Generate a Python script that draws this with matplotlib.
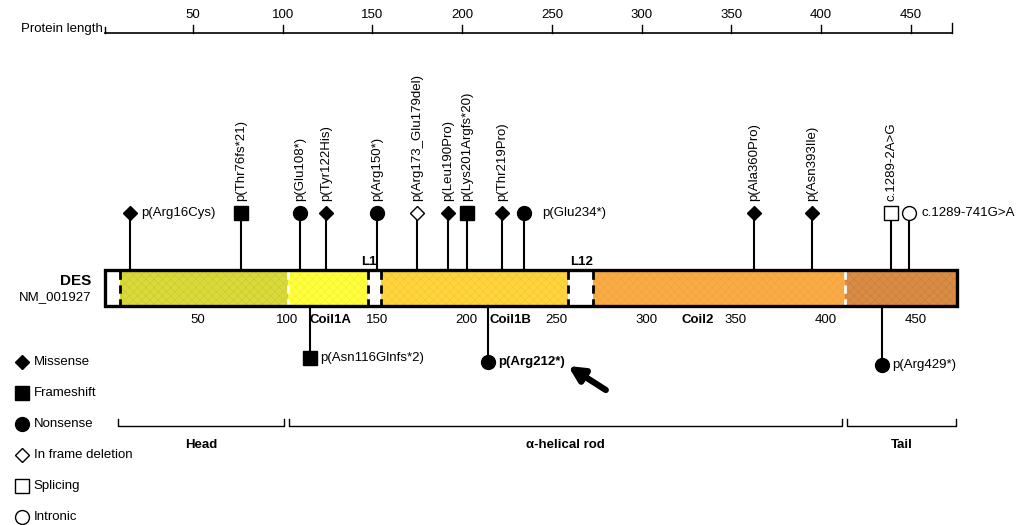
import matplotlib
matplotlib.use("Agg")
import matplotlib.pyplot as plt
from matplotlib.patches import Rectangle

plt.rcParams['font.family'] = ['Liberation Sans', 'DejaVu Sans']
plt.rcParams['hatch.linewidth'] = 0.4

# ---- data (positions in amino acids) ----
axis_ticks = [50, 100, 150, 200, 250, 300, 350, 400, 450]
protein_end = 473

domain_names = ["N-term", "Head", "Coil1A", "L1", "Coil1B", "L12", "Coil2", "Tail"]
domain_starts = [1, 9.4, 103, 147.5, 154.8, 259, 272.9, 413]
domain_ends = [9.4, 103, 147.5, 154.8, 259, 272.9, 413, 475.6]
domain_colors = ["white", "#d9d93a", "#ffff3c", "white", "#ffd43c", "white", "#f9ac45", "#d98c45"]
domain_texture = ["white", "#c8c832", "#f0f032", "white", "#f2c434", "white", "#f0a03c", "#c97e3c"]

# mutations above the bar
top_labels = ["p(Arg16Cys)", "p(Thr76fs*21)", "p(Glu108*)", "p(Tyr122His)", "p(Arg150*)",
              "p(Arg173_Glu179del)", "p(Leu190Pro)", "p(Lys201Argfs*20)", "p(Thr219Pro)",
              "p(Glu234*)", "p(Ala360Pro)", "p(Asn393Ile)", "c.1289-2A>G", "c.1289-741G>A"]
top_pos = [15, 76.7, 109.6, 124, 152.5, 174.8, 192, 202.7, 222, 234.4, 362.6, 395, 439, 449]
top_types = ["Missense", "Frameshift", "Nonsense", "Missense", "Nonsense",
             "In frame deletion", "Missense", "Frameshift", "Missense",
             "Nonsense", "Missense", "Missense", "Splicing", "Intronic"]
# labels written beside the marker instead of above it, with their gap
top_sideways = {"p(Arg16Cys)": 6, "p(Glu234*)": 10, "c.1289-741G>A": 7}

# mutations below the bar
bot_labels = ["p(Asn116Glnfs*2)", "p(Arg212*)", "p(Arg429*)"]
bot_pos = [115.2, 214.4, 433.9]
bot_types = ["Frameshift", "Nonsense", "Nonsense"]
bot_marker_y = [358, 362, 365]

legend_types = ["Missense", "Frameshift", "Nonsense", "In frame deletion", "Splicing", "Intronic"]

regions = ["Head", "\u03b1-helical rod", "Tail"]
region_starts = [8.2, 103.5, 414.4]
region_ends = [100.7, 411.6, 475]

coil_labels = ["Coil1A", "Coil1B", "Coil2"]
coil_pos = [126.9, 226.6, 331.4]

styles = {
    "Missense": dict(marker="D", ms=7, mfc="black", mec="black"),
    "Frameshift": dict(marker="s", ms=9.5, mfc="black", mec="black"),
    "Nonsense": dict(marker="o", ms=10, mfc="black", mec="black"),
    "In frame deletion": dict(marker="D", ms=7, mfc="white", mec="black"),
    "Splicing": dict(marker="s", ms=9.5, mfc="white", mec="black"),
    "Intronic": dict(marker="o", ms=10, mfc="white", mec="black"),
}

fig = plt.figure(figsize=(10.29, 5.25), dpi=100)
ax = fig.add_axes([0, 0, 1, 1])
ax.set_xlim(1 - 105 / 1.795, 1 + 924 / 1.795)
ax.set_ylim(525, 0)
ax.axis("off")

fs = 9.5

# ---- protein length axis ----
ax.plot([1, protein_end], [33, 33], color="black", lw=1.2)
ax.plot([1, 1], [33, 27], color="black", lw=1)
ax.plot([protein_end, protein_end], [33, 23], color="black", lw=1)
for t in axis_ticks:
    ax.plot([t, t], [33, 25], color="black", lw=1)
    ax.text(t, 21, str(t), ha="center", va="bottom", fontsize=fs)
ax.text(0, 29, "Protein length", ha="right", va="center", fontsize=fs)

# ---- domain bar ----
bar_top, bar_bot = 270, 306
for s, e, c, h in zip(domain_starts, domain_ends, domain_colors, domain_texture):
    if c == "white":
        ax.add_patch(Rectangle((s, bar_top), e - s, bar_bot - bar_top, facecolor=c, edgecolor="none"))
    else:
        ax.add_patch(Rectangle((s, bar_top), e - s, bar_bot - bar_top, facecolor=c, edgecolor=h,
                               lw=0, hatch="xxxx"))
ax.add_patch(Rectangle((1, bar_top), 475.6 - 1, bar_bot - bar_top, facecolor="none",
                       edgecolor="black", lw=2.4, zorder=4))
for b in domain_starts[1:]:
    white_side = b in (9.4, 147.5, 154.8, 259, 272.9)
    col = "black" if white_side else "white"
    ax.plot([b, b], [bar_top + 1, bar_bot - 1], color=col, lw=2, ls=(0, (3, 2)), zorder=3)

ax.text(-6.8, 281, "DES", ha="right", va="center", fontsize=11, fontweight="bold")
ax.text(-6.8, 297, "NM_001927", ha="right", va="center", fontsize=fs)

for t in axis_ticks:
    ax.text(t + 2.5, 320, str(t), ha="center", va="center", fontsize=fs)
for lab, x in zip(coil_labels, coil_pos):
    ax.text(x, 320, lab, ha="center", va="center", fontsize=fs, fontweight="bold")
ax.text(148, 262, "L1", ha="center", va="center", fontsize=fs, fontweight="bold")
ax.text(266.7, 262, "L12", ha="center", va="center", fontsize=fs, fontweight="bold")

# ---- mutations above ----
for lab, x, kind in zip(top_labels, top_pos, top_types):
    ax.plot([x, x], [213, bar_top], color="black", lw=1.5, zorder=2)
    ax.plot([x], [213], linestyle="none", zorder=5, **styles[kind])
    if lab in top_sideways:
        ax.text(x + top_sideways[lab], 213, lab, ha="left", va="center", fontsize=fs)
    else:
        ax.text(x, 201, lab, ha="center", va="bottom", rotation=90, fontsize=fs)

# ---- mutations below ----
for lab, x, kind, my in zip(bot_labels, bot_pos, bot_types, bot_marker_y):
    ax.plot([x, x], [bar_bot, my], color="black", lw=1.5, zorder=2)
    ax.plot([x], [my], linestyle="none", zorder=5, **styles[kind])
    bold = "bold" if lab == "p(Arg212*)" else "normal"
    ax.text(x + 5.5, my, lab, ha="left", va="center", fontsize=fs, fontweight=bold)

ax.annotate("", xy=(259, 366), xytext=(280, 390),
            arrowprops=dict(arrowstyle="-|>,head_length=0.9,head_width=0.45", color="black", lw=4.5,
                            shrinkA=0, shrinkB=0))

# ---- legend ----
for i, kind in enumerate(legend_types):
    y = 362 + i * 31
    ax.plot([-45.2], [y], linestyle="none", **styles[kind])
    ax.text(-38.6, y, kind, ha="left", va="center", fontsize=fs)

# ---- regions ----
for lab, s, e in zip(regions, region_starts, region_ends):
    ax.plot([s, s, e, e], [419, 426, 426, 419], color="black", lw=1)
    ax.text((s + e) / 2, 445, lab, ha="center", va="center", fontsize=fs, fontweight="bold")

fig.savefig("out.png", dpi=100)
